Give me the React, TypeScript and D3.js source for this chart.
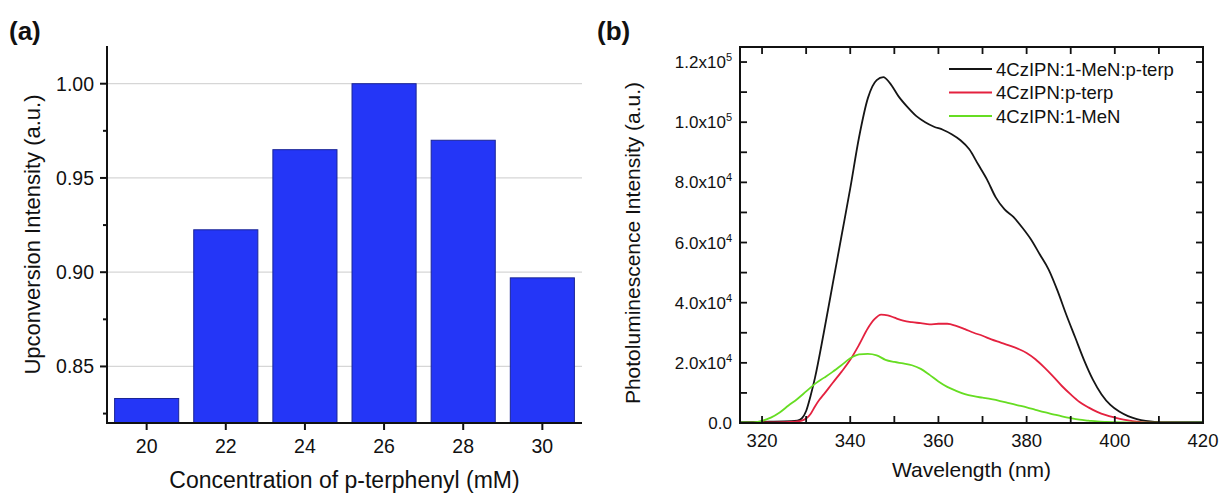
import React from "react";
import * as d3 from "d3";

// ---------- Panel (a) data ----------
const concCategories = ["20", "22", "24", "26", "28", "30"];
const upconvValues = [0.833, 0.9225, 0.965, 1.0, 0.97, 0.897];
const aYMajorTicks = [0.85, 0.9, 0.95, 1.0];
const aYMinorTicks = [0.825, 0.875, 0.925, 0.975];

// ---------- Panel (b) data ----------
const blackWl = [315, 320, 325, 328, 329, 330, 331, 332, 334, 336, 338, 340, 342, 344, 346, 347.5, 349, 351, 353, 355, 357, 359, 361, 363, 365, 367, 369, 371, 373, 375, 377, 379, 381, 383, 385, 387, 389, 391, 393, 395, 397, 399, 401, 403, 405, 407, 409, 412, 420];
const blackVal = [300, 400, 500, 800, 1500, 4000, 9000, 15000, 30000, 46000, 62000, 78000, 95000, 108000, 114000, 115000, 113000, 108500, 105000, 102000, 100000, 98500, 97500, 96000, 94000, 91000, 86000, 81000, 75000, 71000, 68500, 65000, 61000, 56000, 51000, 44000, 36000, 28500, 21000, 14500, 9500, 6000, 3800, 2300, 1300, 700, 400, 300, 300];

const redWl = [315, 320, 325, 328, 329, 330, 331, 332, 333, 334, 336, 338, 340, 342, 344, 345.5, 347, 348.5, 350, 352, 354, 356, 358, 360, 362, 364, 366, 368, 370, 372, 374, 376, 378, 380, 382, 384, 386, 388, 390, 392, 394, 396, 398, 400, 402, 404, 406, 410, 420];
const redVal = [0, 200, 300, 500, 800, 1500, 3000, 5500, 7700, 9500, 13300, 17000, 21000, 26000, 31500, 34500, 36000, 35800, 35000, 34000, 33500, 33200, 32800, 33000, 33000, 32300, 31200, 30000, 29000, 27800, 26800, 25800, 24700, 23300, 21200, 18500, 15500, 12300, 9500, 7000, 5200, 3700, 2600, 1800, 1100, 600, 300, 100, 0];

const greenWl = [315, 317, 319, 320, 321, 322, 324, 326, 328, 330, 332, 334, 336, 338, 340, 342, 344, 346, 348, 350, 352, 354, 356, 358, 360, 362, 364, 366, 368, 370, 372, 374, 376, 378, 380, 382, 384, 386, 388, 390, 392, 394, 396, 398, 400, 405, 420];
const greenVal = [200, 200, 400, 700, 1200, 1800, 3500, 5800, 8000, 10500, 13000, 15000, 17000, 19200, 21500, 22800, 23000, 22500, 21000, 20300, 19800, 19200, 18000, 16000, 13800, 12000, 10700, 9600, 8900, 8400, 7900, 7300, 6600, 5900, 5200, 4400, 3600, 2900, 2200, 1600, 1100, 800, 500, 350, 250, 150, 100];

const seriesNames = ["4CzIPN:1-MeN:p-terp", "4CzIPN:p-terp", "4CzIPN:1-MeN"];
const seriesColors = ["#151515", "#e4213f", "#66dd22"];
const bXTicksMajor = [320, 340, 360, 380, 400, 420];
const bXTicksAll = [320, 330, 340, 350, 360, 370, 380, 390, 400, 410, 420];
const bYTicksMajor = [0, 20000, 40000, 60000, 80000, 100000, 120000];
const bYTickLabels = [["0.0", ""], ["2.0x10", "4"], ["4.0x10", "4"], ["6.0x10", "4"], ["8.0x10", "4"], ["1.0x10", "5"], ["1.2x10", "5"]];
const bYTicksAll = [0, 10000, 20000, 30000, 40000, 50000, 60000, 70000, 80000, 90000, 100000, 110000, 120000];

const FONT = "'Liberation Sans', Arial, Helvetica, sans-serif";

export default function App() {
  // Panel (a) scales
  const aLeft = 107, aRight = 582, aTop = 46, aBottom = 423;
  const ax = d3.scaleBand<string>().domain(concCategories).range([aLeft, aRight]).paddingInner(0.19).paddingOuter(0.096);
  const ay = d3.scaleLinear().domain([0.82, 1.02]).range([aBottom, aTop]);

  // Panel (b) scales
  const bLeft = 740, bRight = 1203, bTop = 47, bBottom = 423;
  const bx = d3.scaleLinear().domain([315, 420]).range([bLeft, bRight]);
  const by = d3.scaleLinear().domain([0, 125000]).range([bBottom, bTop]);
  const line = d3
    .line<[number, number]>()
    .x((d) => bx(d[0]))
    .y((d) => by(d[1]))
    .curve(d3.curveMonotoneX);
  const series: [number, number][][] = [
    blackWl.map((w, i) => [w, blackVal[i]]),
    redWl.map((w, i) => [w, redVal[i]]),
    greenWl.map((w, i) => [w, greenVal[i]]),
  ];
  const tick = 7;

  return (
    <svg
      width={1220}
      height={493}
      style={{ position: "absolute", left: 0, top: 0, display: "block", background: "#fff" }}
      fontFamily={FONT}
    >
      <rect x={0} y={0} width={1220} height={493} fill="#fff" />
      {/* ---------------- Panel (a) ---------------- */}
      <text x={9} y={40} fontSize={26} fontWeight="bold" fill="#111">(a)</text>
      {aYMajorTicks.map((t) => (
        <line key={"g" + t} x1={aLeft} x2={aRight} y1={ay(t)} y2={ay(t)} stroke="#d6d6d6" strokeWidth={1.2} />
      ))}
      {concCategories.map((c, i) => (
        <rect
          key={c}
          x={ax(c)}
          y={ay(upconvValues[i])}
          width={ax.bandwidth()}
          height={aBottom - ay(upconvValues[i])}
          fill="#2436f7"
          stroke="#1a2596"
          strokeWidth={1}
        />
      ))}
      <line x1={aLeft} x2={aLeft} y1={aTop} y2={aBottom + 1} stroke="#111" strokeWidth={2} />
      <line x1={aLeft - 1} x2={aRight} y1={aBottom} y2={aBottom} stroke="#111" strokeWidth={2} />
      {aYMajorTicks.map((t) => (
        <g key={"ya" + t}>
          <line x1={aLeft - tick} x2={aLeft} y1={ay(t)} y2={ay(t)} stroke="#111" strokeWidth={2} />
          <text x={aLeft - 13} y={ay(t) + 7} fontSize={19.5} textAnchor="end" fill="#111">{t.toFixed(2)}</text>
        </g>
      ))}
      {aYMinorTicks.map((t) => (
        <line key={"ym" + t} x1={aLeft - 4} x2={aLeft} y1={ay(t)} y2={ay(t)} stroke="#111" strokeWidth={2} />
      ))}
      {concCategories.map((c) => {
        const cx = (ax(c) as number) + ax.bandwidth() / 2;
        return (
          <g key={"xa" + c}>
            <line x1={cx} x2={cx} y1={aBottom} y2={aBottom + tick} stroke="#111" strokeWidth={2} />
            <text x={cx} y={453} fontSize={19.5} textAnchor="middle" fill="#111">{c}</text>
          </g>
        );
      })}
      <text x={(aLeft + aRight) / 2} y={488} fontSize={23} textAnchor="middle" fill="#111">Concentration of p-terphenyl (mM)</text>
      <text transform={`translate(40,${(aTop + aBottom) / 2}) rotate(-90)`} fontSize={22} textAnchor="middle" fill="#111">Upconversion Intensity (a.u.)</text>

      {/* ---------------- Panel (b) ---------------- */}
      <text x={597} y={40} fontSize={26} fontWeight="bold" fill="#111">(b)</text>
      {series.map((s, i) => (
        <path key={"s" + i} d={line(s) || ""} fill="none" stroke={seriesColors[i]} strokeWidth={1.8} />
      ))}
      <rect x={bLeft} y={bTop} width={bRight - bLeft} height={bBottom - bTop} fill="none" stroke="#111" strokeWidth={2} />
      {bXTicksAll.map((t) => (
        <g key={"xb" + t}>
          <line x1={bx(t)} x2={bx(t)} y1={bBottom} y2={bBottom - tick} stroke="#111" strokeWidth={1.8} />
          <line x1={bx(t)} x2={bx(t)} y1={bTop} y2={bTop + tick} stroke="#111" strokeWidth={1.8} />
        </g>
      ))}
      {bYTicksAll.map((t) => (
        <g key={"yb" + t}>
          <line x1={bLeft} x2={bLeft + tick} y1={by(t)} y2={by(t)} stroke="#111" strokeWidth={1.8} />
          <line x1={bRight} x2={bRight - tick} y1={by(t)} y2={by(t)} stroke="#111" strokeWidth={1.8} />
        </g>
      ))}
      {bXTicksMajor.map((t) => (
        <text key={"xl" + t} x={bx(t)} y={447} fontSize={18.5} textAnchor="middle" fill="#111">{t}</text>
      ))}
      {bYTicksMajor.map((t, i) => (
        <text key={"yl" + t} x={732} y={by(t) + 6} fontSize={17} textAnchor="end" fill="#111">
          {bYTickLabels[i][0]}
          {bYTickLabels[i][1] ? (
            <tspan fontSize={11} dy={-7}>{bYTickLabels[i][1]}</tspan>
          ) : null}
        </text>
      ))}
      <text x={(bLeft + bRight) / 2} y={477} fontSize={21} textAnchor="middle" fill="#111">Wavelength (nm)</text>
      <text transform={`translate(640,${(bTop + bBottom) / 2 + 8}) rotate(-90)`} fontSize={21} textAnchor="middle" fill="#111">Photoluminescence Intensity (a.u.)</text>

      {/* legend */}
      {seriesNames.map((n, i) => {
        const ly = 69 + i * 23.5;
        return (
          <g key={"lg" + i}>
            <line x1={949} x2={992} y1={ly} y2={ly} stroke={seriesColors[i]} strokeWidth={1.8} />
            <text x={996} y={ly + 6.5} fontSize={18.5} fill="#111">{n}</text>
          </g>
        );
      })}
    </svg>
  );
}
